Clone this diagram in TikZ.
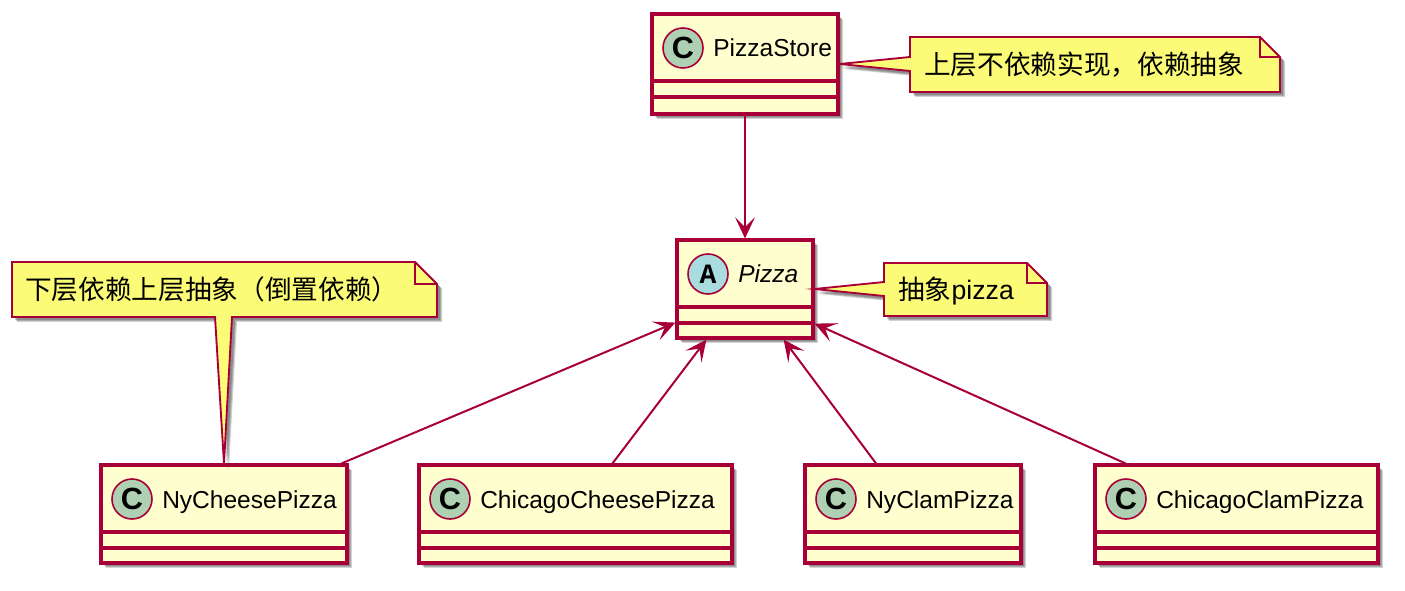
\documentclass[tikz,border=0pt]{standalone}
\usepackage{fontspec}
\setmainfont{Liberation Sans}
\newfontfamily\cjk{Noto Sans CJK SC}
\newfontfamily\spotmono{Liberation Mono}
\usetikzlibrary{arrows.meta,fit,calc}
\definecolor{umlred}{HTML}{A80036}
\definecolor{classfill}{HTML}{FEFECE}
\definecolor{notefill}{HTML}{FBFB77}
\definecolor{spotC}{HTML}{ADD1B2}
\definecolor{spotA}{HTML}{A9DCDF}
\tikzset{
  classbox/.style={draw=umlred, fill=classfill, line width=2.4pt, inner sep=0pt},
  sepline/.style={draw=umlred, line width=2.4pt},
  spot/.style={draw=umlred, line width=1.2pt, circle, minimum size=30pt, inner sep=0pt},
  classname/.style={anchor=base west, inner sep=0pt, font=\fontsize{18.4pt}{20pt}\selectfont},
  notebox/.style={draw=umlred, fill=notefill, line width=1.4pt, line join=miter},
  notetext/.style={anchor=base west, inner sep=0pt, font=\fontsize{20pt}{22pt}\selectfont},
  shadowfill/.style={fill=black, opacity=0.18},
  genarrow/.style={draw=umlred, line width=1.5pt, -{Stealth[length=16pt,width=15pt,inset=7.5pt]}},
}
% class box: (name)(left,top)(right,bottom)[spot colour]{spot letter}{class name}
\def\umlclass(#1)(#2,#3)(#4,#5)[#6]#7#8{%
  \foreach \off in {3,4,5} \fill[shadowfill] (#2+\off,#3+\off) rectangle (#4+\off,#5+\off);
  \node[classbox, fit={(#2,#3) (#4,#5)}] (#1) {};
  \draw[sepline] (#2,#3+67) -- (#4,#3+67);
  \draw[sepline] (#2,#3+83) -- (#4,#3+83);
  \node[spot, fill=#6] (#1-spot) at (#2+31,#3+34) {#7};
  \node[classname] (#1-name) at (#2+61,#3+43) {#8};
}
\def\spotC{\fontsize{23pt}{23pt}\selectfont\bfseries C}
\def\spotA{\spotmono\fontsize{21pt}{21pt}\selectfont\bfseries A}

\begin{document}
\begin{tikzpicture}[x=0.75pt, y=-0.75pt]
  \useasboundingbox (0,0) rectangle (1405,591);

  %%% classes
  \umlclass(store)(652,14)(838,114)[spotC]{\spotC}{PizzaStore}
  \umlclass(pizza)(677,240)(813,338)[spotA]{\spotA}{\itshape Pizza}
  \umlclass(nycheese)(101,465)(347,563)[spotC]{\spotC}{NyCheesePizza}
  \umlclass(chicheese)(419,465)(732,563)[spotC]{\spotC}{ChicagoCheesePizza}
  \umlclass(nyclam)(805,465)(1021,563)[spotC]{\spotC}{NyClamPizza}
  \umlclass(chiclam)(1095,465)(1378,563)[spotC]{\spotC}{ChicagoClamPizza}

  %%% connectors
  \draw[genarrow] (store.south) -- (pizza.north);
  \draw[genarrow] ($(nycheese.north east)+(-7,0)$) -- ($(pizza.south west)+(0,-17)$);
  \draw[genarrow] ($(chicheese.north)+(37,0)$) -- ($(pizza.south west)+(31,0)$);
  \draw[genarrow] ($(nyclam.north)+(-37,0)$) -- ($(pizza.south east)+(-31,0)$);
  \draw[genarrow] ($(chiclam.north west)+(32,0)$) -- ($(pizza.south east)+(0,-16)$);

  %%% notes
  \foreach \off in {3,4,5}
    \fill[shadowfill, shift={(\off,\off)}] (910,37) -- (1260,37) -- (1280,57) -- (1280,92)
      -- (910,92) -- (910,71) -- (838,64) -- (910,57) -- cycle;
  \draw[notebox] (910,37) -- (1260,37) -- (1280,57) -- (1280,92)
    -- (910,92) -- (910,71) -- (store.east) -- (910,57) -- cycle;
  \draw[notebox, fill=none] (1260,37) -- (1260,57) -- (1280,57);
  \node[notetext] (note-store) at (924,75) {\cjk 上层不依赖实现，依赖抽象};

  \foreach \off in {3,4,5}
    \fill[shadowfill, shift={(\off,\off)}] (884,263) -- (1027,263) -- (1047,283) -- (1047,316)
      -- (884,316) -- (884,296) -- (813,289) -- (884,282) -- cycle;
  \draw[notebox] (884,263) -- (1027,263) -- (1047,283) -- (1047,316)
    -- (884,316) -- (884,296) -- (pizza.east) -- (884,282) -- cycle;
  \draw[notebox, fill=none] (1027,263) -- (1027,283) -- (1047,283);
  \node[notetext] (note-pizza) at (898,300) {{\cjk 抽象}pizza};

  \foreach \off in {3,4,5}
    \fill[shadowfill, shift={(\off,\off)}] (12,262) -- (415,262) -- (437,284) -- (437,317)
      -- (232,317) -- (224,465) -- (215,317) -- (12,317) -- cycle;
  \draw[notebox] (12,262) -- (415,262) -- (437,284) -- (437,317)
    -- (232,317) -- (nycheese.north) -- (215,317) -- (12,317) -- cycle;
  \draw[notebox, fill=none] (415,262) -- (415,284) -- (437,284);
  \node[notetext] (note-lower) at (25,300) {\cjk 下层依赖上层抽象（倒置依赖）};
\end{tikzpicture}
\end{document}
